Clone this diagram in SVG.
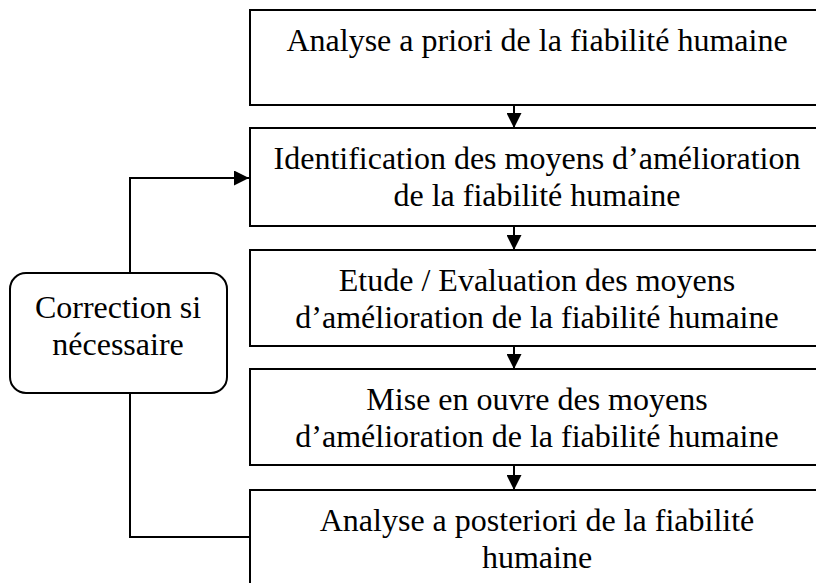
<svg xmlns="http://www.w3.org/2000/svg" width="816" height="583" viewBox="0 0 816 583">
  <style>
    .box { fill: #ffffff; stroke: #000000; stroke-width: 2; }
    .lbl { font-family: 'Liberation Serif', 'Times New Roman', serif; font-size: 32px; fill: #000000; text-anchor: middle; }
    .wire { fill: none; stroke: #000000; stroke-width: 2; }
  </style>
  <defs>
    <marker id="head" viewBox="0 0 15 15" refX="15" refY="7.5" markerWidth="15" markerHeight="15" markerUnits="userSpaceOnUse" orient="auto">
      <path d="M0,0 L15,7.5 L0,15 Z" fill="#000000"/>
    </marker>
  </defs>

  <rect width="816" height="583" fill="#ffffff"/>

  <g id="connectors">
    <line class="wire" x1="514" y1="105" x2="514" y2="128" marker-end="url(#head)"/>
    <line class="wire" x1="514" y1="226" x2="514" y2="250" marker-end="url(#head)"/>
    <line class="wire" x1="514" y1="346" x2="514" y2="369" marker-end="url(#head)"/>
    <line class="wire" x1="514" y1="465" x2="514" y2="490" marker-end="url(#head)"/>
    <polyline class="wire" points="250,537 130,537 130,393"/>
    <polyline class="wire" points="130,273 130,178 249,178" marker-end="url(#head)"/>
  </g>

  <g id="step-analyse-a-priori">
    <rect class="box" x="250" y="10" width="580" height="95"/>
    <text class="lbl" x="537" y="51">Analyse a priori de la fiabilité humaine</text>
  </g>

  <g id="step-identification">
    <rect class="box" x="250" y="128" width="580" height="98"/>
    <text class="lbl" x="537" y="169">Identification des moyens d’amélioration</text>
    <text class="lbl" x="537" y="206">de la fiabilité humaine</text>
  </g>

  <g id="step-evaluation">
    <rect class="box" x="250" y="250" width="580" height="96"/>
    <text class="lbl" x="537" y="291">Etude / Evaluation des moyens</text>
    <text class="lbl" x="537" y="328">d’amélioration de la fiabilité humaine</text>
  </g>

  <g id="step-mise-en-oeuvre">
    <rect class="box" x="250" y="369" width="580" height="96"/>
    <text class="lbl" x="537" y="410">Mise en ouvre des moyens</text>
    <text class="lbl" x="537" y="447">d’amélioration de la fiabilité humaine</text>
  </g>

  <g id="step-analyse-a-posteriori">
    <rect class="box" x="250" y="490" width="580" height="110"/>
    <text class="lbl" x="537" y="531">Analyse a posteriori de la fiabilité</text>
    <text class="lbl" x="537" y="568">humaine</text>
  </g>

  <g id="correction">
    <rect class="box" x="10" y="273" width="217" height="120" rx="16" ry="16"/>
    <text class="lbl" x="118" y="318">Correction si</text>
    <text class="lbl" x="118" y="355">nécessaire</text>
  </g>
</svg>
